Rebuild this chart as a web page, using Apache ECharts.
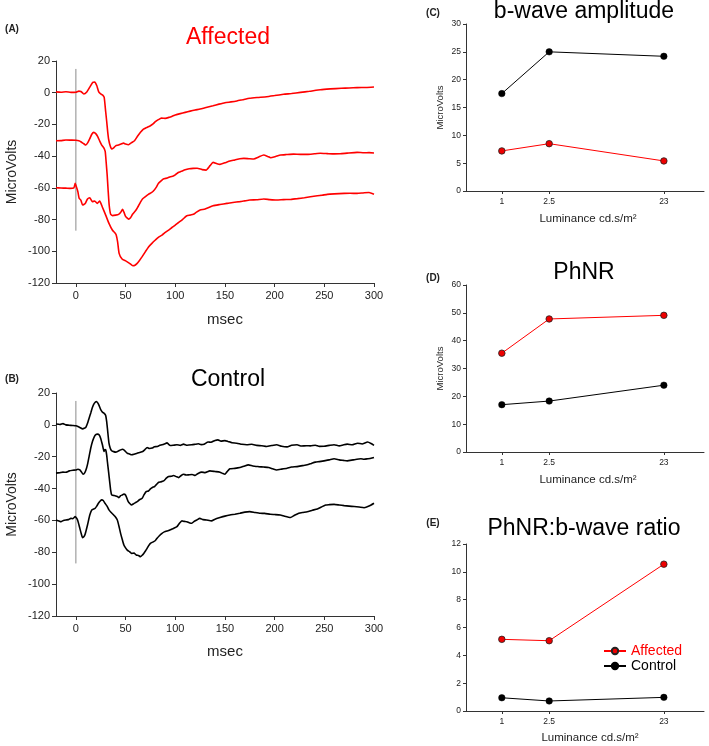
<!DOCTYPE html>
<html>
<head>
<meta charset="utf-8">
<script src="https://cdn.jsdelivr.net/npm/echarts@6/dist/echarts.min.js"></script>
<style>
  html, body { margin: 0; padding: 0; background: #ffffff; }
  #chart { width: 709px; height: 746px; }
</style>
</head>
<body>
<div id="chart"></div>
<script>
// ---------------- DATA ----------------
// ERG traces, [msec, microvolts]
const affected1 = [[-20,0.5],[-15,0.3],[-10,0.6],[-5,0.2],[0,0.3],[3,1.0],[5,0.8],[8,-0.8],[11,0.5],[14,3.5],[17,6.5],[19,6.8],[21,4.5],[23,0.5],[25,-0.8],[27,-1.5],[28.5,-3],[30,-12],[31,-18],[32,-24.5],[33,-29.5],[34.5,-33.5],[36,-35.5],[38,-34.8],[40,-33.5],[43,-33],[46,-32.2],[48,-31.8],[50,-32.4],[53,-32.8],[56,-31.5],[59,-30.3],[62,-27.5],[65,-25],[68,-23],[71,-22],[75,-20.8],[78,-19.5],[80,-18.3],[83,-17],[86,-16],[90,-16.2],[94,-15.5],[97,-14.8],[100,-14],[105,-13.2],[110,-12.4],[115,-11.6],[120,-10.9],[125,-10.3],[130,-9.5],[138,-8.2],[144,-7.2],[150,-6.3],[156,-5.8],[162,-5.2],[168,-4.4],[175,-3.5],[183,-3.0],[192,-2.5],[200,-1.8],[209,-1.0],[217,-0.5],[226,0.2],[235,0.9],[246,1.9],[256,2.4],[267,2.8],[275,3.0],[283,3.2],[292,3.3],[300,3.6]];
const affected2 = [[-20,-30.3],[-15,-30.2],[-10,-29.8],[-5,-29.9],[0,-30],[3,-30.3],[5,-30.9],[8,-32.2],[10,-33],[12,-31.5],[14,-29],[16,-26.2],[18,-25],[20,-25.8],[22,-27.7],[24,-30.5],[26,-33],[28,-34.7],[29.5,-37],[30.5,-44],[31.5,-52],[32.5,-62],[33.5,-70.8],[35,-76.7],[37,-77.5],[40,-77.2],[43,-76.7],[45,-75.5],[47,-73.6],[48.5,-75.5],[50,-78],[53,-79.7],[55,-78.8],[57,-76.7],[60,-74.5],[62,-72.5],[65,-69],[67,-67],[70,-65.5],[73,-64.1],[76,-63],[78,-62],[81,-59.5],[83,-57.2],[86,-55.5],[88,-54.4],[92,-53.8],[95,-53],[98,-52.5],[100,-51.8],[103,-50.3],[106,-49.6],[110,-48.6],[114,-48.0],[118,-47.7],[122,-47.6],[127,-48.5],[131,-48.8],[135,-46],[138,-43.9],[142,-44.8],[145,-45.2],[150,-44.2],[155,-43.1],[160,-42.4],[165,-41.6],[169,-41.4],[174,-41.6],[179,-41.8],[184,-40.5],[189,-39.3],[193,-40.2],[196,-41],[201,-40.2],[206,-39.3],[212,-39],[219,-38.7],[226,-38.9],[233,-38.9],[240,-38.5],[246,-38.2],[253,-38.4],[260,-38.6],[266,-38.5],[273,-38.1],[283,-37.6],[290,-37.9],[295,-37.8],[300,-38]];
const affected3 = [[-20,-59.9],[-15,-60.1],[-10,-60.2],[-6,-60.3],[-2,-60],[-0.7,-57.2],[0.5,-59.3],[2,-62.4],[3.3,-66.6],[5,-67.7],[6.7,-70.8],[8,-70.5],[9.5,-69.8],[11.7,-67],[14,-66.2],[16.5,-68.7],[19,-68.3],[21.5,-69.8],[24,-68.3],[26.5,-71.9],[30,-77.2],[33.3,-82.4],[36.7,-86.6],[39,-88.2],[40.5,-89.5],[42,-94],[43.5,-101.3],[46.5,-104.9],[50.5,-106.2],[54,-107.6],[57.3,-109.1],[59.5,-108.8],[61.7,-107.6],[64,-105.8],[66.7,-103.4],[70,-100.2],[73.3,-97.1],[76.5,-95],[80,-92.9],[83,-91.2],[86.7,-89.8],[90,-88.1],[93.3,-86.6],[96.7,-85],[100,-83.5],[103,-82],[106.7,-80.3],[109,-79],[111.7,-77.6],[115,-77.2],[118.3,-76.7],[121,-75.5],[125,-74],[130,-73.4],[138,-71.3],[145,-70.5],[152,-69.8],[158,-69.2],[165,-68.7],[170,-68.2],[175,-67.7],[182,-67.5],[189,-67],[195,-67.4],[202,-67.7],[209,-67.4],[216,-67.3],[223,-66.8],[230,-66.2],[236,-65.6],[243,-65],[248,-64.6],[253,-64.1],[260,-63.8],[270,-63.5],[276,-63.4],[283,-63.5],[289,-63.2],[295,-62.9],[300,-64]];

const control1 = [[-20,0.5],[-16,0.2],[-13,0.8],[-10,0],[-7,-0.2],[-3.3,-0.4],[0,-0.6],[2,-1],[4.5,-1.8],[6.7,-2.5],[9,-2],[10,-1.6],[12,1.5],[13.3,4.2],[15,7.5],[16.7,11],[18.5,13.5],[20.7,14.7],[22,13.8],[23.3,12.2],[25,9.5],[26.7,8],[28.5,7.2],[30,5.9],[31,2],[31.7,-2],[32.5,-7],[33.3,-11.5],[34.5,-14.5],[36,-16.3],[38,-16.8],[40,-17.1],[42.5,-16.5],[45,-15.7],[47,-15.3],[48.3,-15.7],[50,-16.8],[51.7,-17.8],[54,-18.3],[56,-18.8],[58.5,-18.5],[61.7,-17.8],[64,-17.3],[67.3,-16.7],[69.5,-15.5],[71.7,-14.2],[74,-14.8],[76.7,-14.6],[79,-13.8],[81.7,-13.6],[84,-13],[86.7,-12.5],[89,-12],[91.7,-11.3],[93,-12],[95,-13],[98,-12.8],[101.7,-12.5],[105,-12.9],[108.3,-12.1],[112,-12.8],[116.7,-12.5],[120,-12.2],[123.3,-11.9],[126,-12.4],[129,-12.2],[133,-10.8],[136,-10.9],[140,-9.8],[143,-9.4],[146,-10.2],[150,-9.9],[153,-10.4],[157,-11.2],[162,-11.5],[167,-12.2],[172,-12.5],[177,-12.2],[182,-12.9],[187,-13.1],[192,-13.6],[197,-13.0],[202,-12.5],[207,-13.4],[212.5,-13.8],[217,-12.8],[222.6,-12.5],[227,-13.3],[232,-13.1],[236,-13.2],[241,-12.8],[245,-13.5],[249.7,-13.4],[255,-12.9],[259.8,-12.5],[265,-13.2],[269,-12.6],[273,-12.1],[278,-12.5],[283.4,-11.5],[288,-12],[293.6,-10.8],[297,-11.7],[300,-12.9]];
const control2 = [[-20,-30.3],[-16,-30],[-13,-29.7],[-10,-29.8],[-6.7,-28.9],[-3,-28.5],[0,-28.3],[2,-27.9],[4,-28.3],[5.5,-29.5],[7.3,-31],[9,-30],[10.7,-27.2],[12,-24],[13.3,-19.9],[15,-14.5],[16.7,-10.4],[18.5,-7.5],[20,-6.2],[21.7,-5.8],[23.3,-6.2],[25,-8.5],[26.7,-12.5],[28.3,-16.7],[29.2,-15.5],[30,-15.7],[31,-19],[31.7,-23],[33,-30],[34,-35.6],[35,-41],[36,-44],[38,-44.3],[40,-44.6],[41.7,-45],[43.3,-45.7],[45,-44.5],[46.7,-44],[48.3,-43.5],[50,-44],[51.3,-46],[52.7,-48.2],[54.5,-49.5],[56,-50.3],[58,-49.6],[60,-48.8],[61.7,-48.2],[64,-47],[66.7,-46.1],[68.5,-44],[70.7,-41.9],[73,-41.5],[75,-40.2],[77,-39.3],[79.3,-38.7],[81,-37.5],[83.3,-36],[85.5,-35.8],[88.3,-35.2],[91,-33.5],[93.3,-32.4],[96,-32.3],[98.3,-31.8],[101,-32.5],[103.3,-33.1],[106,-31.8],[108.3,-31],[111,-31.5],[113.3,-31.4],[117,-31.2],[120,-31.8],[123,-30.5],[126.7,-29.7],[130,-30],[134.8,-28.9],[140,-29.3],[145,-29.7],[148,-30.6],[150,-31],[152,-29.5],[155,-27.6],[160,-27.3],[165,-26.8],[169,-26.0],[173.6,-25.1],[178,-25.8],[183.8,-26.2],[189,-26.5],[194,-26.8],[198,-27.6],[202,-28.3],[207,-27.8],[212.5,-27.2],[217,-26.5],[222.6,-26.2],[228,-25.6],[232.8,-25.1],[237,-24.2],[241,-23.4],[245,-23.1],[249.7,-22.6],[255,-22],[259.8,-21.3],[265,-22],[269,-22.3],[273,-22.6],[279,-22],[286.8,-21.3],[290,-21.6],[293.6,-21.3],[297,-21.0],[300,-20.5]];
const control3 = [[-20,-59.7],[-17,-60.3],[-15,-60.8],[-12.5,-60],[-10,-59.7],[-7.5,-59.5],[-5,-58.7],[-3,-58.9],[-0.7,-57.6],[1.7,-59.7],[4,-65],[5.5,-68.5],[6.7,-70.8],[8,-70.3],[9.3,-68.7],[11.7,-62.9],[14,-56.6],[16,-53.4],[19.3,-52.4],[21,-51],[22.7,-49.2],[24.5,-47.8],[26,-47.1],[27.5,-47.5],[29.3,-49.2],[31.5,-51.2],[33.3,-53.4],[35.5,-55],[37.3,-56.1],[39.5,-57.6],[41.7,-59.7],[43.3,-63.5],[45,-68.1],[46.7,-72],[48.3,-75.4],[50,-77.2],[51.7,-78.6],[54,-79.6],[56,-80.7],[58.5,-80.5],[60.7,-81.7],[63,-82],[65,-82.8],[66.7,-81.9],[68.3,-80.7],[70,-79.2],[71.7,-77.5],[73.3,-75.8],[75,-74.4],[78.3,-73.3],[80,-72.6],[81.7,-71.2],[84,-69.6],[86.7,-68.1],[89,-67.2],[91.7,-66.6],[94,-66.2],[96.7,-65.4],[99,-64.8],[101.7,-63.9],[104,-62],[106.7,-60.3],[109,-60.6],[111.7,-60.8],[114,-61.4],[116.7,-61.8],[119,-60.6],[121.7,-59.7],[124.7,-58.7],[128,-59.5],[131.4,-59.7],[136.5,-60.3],[140,-59.2],[145,-58.2],[150,-57.3],[155,-56.6],[160,-56.1],[165,-55.5],[170,-54.8],[175,-54.5],[180,-55],[185.5,-55.5],[190,-55.6],[195.6,-56.1],[200,-56.3],[205.7,-56.6],[210,-57.4],[215.9,-58.2],[220,-56.8],[224.3,-55.5],[228,-55],[232.8,-54.5],[238,-53.6],[243,-52.8],[247,-51.6],[251.4,-50.3],[255,-50.1],[259.8,-49.9],[265,-50.3],[270,-50.7],[275,-51],[280,-51.3],[285,-51.6],[290,-52],[295,-51],[300,-49.2]];

// stimulus marker (msec, microvolt range)
const stimTime = 0;
const stimRange = [15, -87];

// time axis tick labels
const timeTicks = [0, 50, 100, 150, 200, 250, 300];

// luminance panels
const luminance = [1, 2.5, 23];
const bwaveAffected = [7.2, 8.5, 5.4];
const bwaveControl = [17.5, 25.0, 24.2];
const phnrAffected = [35.5, 47.8, 49.1];
const phnrControl = [17.0, 18.3, 24.0];
const ratioAffected = [5.15, 5.05, 10.55];
const ratioControl = [0.95, 0.72, 0.98];

// ---------------- CHART ----------------
const FONT = '"Liberation Sans", Arial, Helvetica, sans-serif';
const RED = '#ff0000';
const AXIS = '#333333';
const chart = echarts.init(document.getElementById('chart'), null, { renderer: 'canvas' });

function pairs(xs, ys) { return xs.map((x, i) => [x, ys[i]]); }

function traceX(gi) {
  return {
    type: 'value', gridIndex: gi, min: -20, max: 300,
    axisLine: { show: true, onZero: false, lineStyle: { color: AXIS, width: 1 } },
    axisTick: { show: true, length: 4, customValues: timeTicks, lineStyle: { color: AXIS } },
    axisLabel: { customValues: timeTicks, color: '#222', fontSize: 11, fontFamily: FONT, margin: 7 },
    splitLine: { show: false }
  };
}
function traceY(gi) {
  return {
    type: 'value', gridIndex: gi, min: -120, max: 20, interval: 20,
    name: 'MicroVolts', nameLocation: 'middle', nameGap: 37,
    nameTextStyle: { color: '#222', fontSize: 14, fontFamily: FONT },
    axisLine: { show: true, onZero: false, lineStyle: { color: AXIS, width: 1 } },
    axisTick: { show: true, length: 4, lineStyle: { color: AXIS } },
    axisLabel: { color: '#222', fontSize: 11, fontFamily: FONT, margin: 6 },
    splitLine: { show: false }
  };
}
function lumX(gi) {
  return {
    type: 'log', logBase: 10, gridIndex: gi, min: 0.5, max: 50,
    axisLine: { show: true, onZero: false, lineStyle: { color: AXIS, width: 1 } },
    axisTick: { show: true, length: 3, customValues: luminance, lineStyle: { color: AXIS } },
    axisLabel: { customValues: luminance, color: '#222', fontSize: 8.5, fontFamily: FONT, margin: 6,
      formatter: v => String(v) },
    splitLine: { show: false }, minorTick: { show: false }
  };
}
function lumY(gi, max, interval, name) {
  return {
    type: 'value', gridIndex: gi, min: 0, max: max, interval: interval,
    name: name || '', nameLocation: 'middle', nameGap: 21,
    nameTextStyle: { color: '#222', fontSize: 9.5, fontFamily: FONT },
    axisLine: { show: true, onZero: false, lineStyle: { color: AXIS, width: 1 } },
    axisTick: { show: true, length: 3, lineStyle: { color: AXIS } },
    axisLabel: { color: '#222', fontSize: 8.5, fontFamily: FONT, margin: 5 },
    splitLine: { show: false }
  };
}
function trace(name, data, gi, color) {
  return {
    type: 'line', name: name, xAxisIndex: gi, yAxisIndex: gi, data: data,
    showSymbol: false, symbol: 'none', smooth: 0.15,
    lineStyle: { color: color, width: 1.6 }, itemStyle: { color: color },
    z: 3, silent: true
  };
}
function stimLine(gi) {
  return {
    type: 'line', name: 'stim' + gi, xAxisIndex: gi, yAxisIndex: gi,
    data: [[stimTime, stimRange[0]], [stimTime, stimRange[1]]],
    showSymbol: false, symbol: 'none',
    lineStyle: { color: '#8a8a8a', width: 1 }, z: 2, silent: true
  };
}
function lumSeries(name, ys, gi, isAffected) {
  return {
    type: 'line', name: name, xAxisIndex: gi, yAxisIndex: gi,
    data: pairs(luminance, ys),
    symbol: 'circle', symbolSize: 6.5,
    lineStyle: { color: isAffected ? RED : '#000', width: 1 },
    itemStyle: isAffected ? { color: '#ee0000', borderColor: '#222', borderWidth: 0.8 }
                          : { color: '#000', borderColor: '#000', borderWidth: 0.5 },
    z: 3
  };
}
function txt(text, x, y, size, color, bold) {
  return {
    type: 'text', x: x, y: y, silent: true,
    style: {
      text: text, fill: color || '#222',
      font: (bold ? 'bold ' : '') + size + 'px ' + FONT,
      align: 'center', verticalAlign: 'middle',
      textAlign: 'center', textVerticalAlign: 'middle'
    }
  };
}

const option = {
  animation: false,
  backgroundColor: '#ffffff',
  textStyle: { fontFamily: FONT },
  grid: [
    { left: 56, top: 61, width: 318, height: 222 },
    { left: 56, top: 393, width: 318, height: 223 },
    { left: 466, top: 24, width: 238, height: 167 },
    { left: 466, top: 285, width: 238, height: 167 },
    { left: 466, top: 544, width: 238, height: 167 }
  ],
  xAxis: [traceX(0), traceX(1), lumX(2), lumX(3), lumX(4)],
  yAxis: [traceY(0), traceY(1), lumY(2, 30, 5, 'MicroVolts'), lumY(3, 60, 10, 'MicroVolts'), lumY(4, 12, 2, '')],
  legend: {
    orient: 'vertical', left: 598, top: 639,
    itemWidth: 22, itemHeight: 8, itemGap: 1,
    textStyle: { fontSize: 14, fontFamily: FONT, lineHeight: 12, padding: [0, 0, 0, 0] },
    data: [
      { name: 'Affected', textStyle: { color: RED } },
      { name: 'Control', textStyle: { color: '#000' } }
    ],
    selectedMode: false
  },
  series: [
    stimLine(0), stimLine(1),
    trace('Affected trace 1', affected1, 0, RED),
    trace('Affected trace 2', affected2, 0, RED),
    trace('Affected trace 3', affected3, 0, RED),
    trace('Control trace 1', control1, 1, '#000'),
    trace('Control trace 2', control2, 1, '#000'),
    trace('Control trace 3', control3, 1, '#000'),
    lumSeries('Control', bwaveControl, 2, false),
    lumSeries('Affected', bwaveAffected, 2, true),
    lumSeries('Affected', phnrAffected, 3, true),
    lumSeries('Control', phnrControl, 3, false),
    lumSeries('Affected', ratioAffected, 4, true),
    lumSeries('Control', ratioControl, 4, false)
  ],
  graphic: [
    txt('(A)', 12, 29, 10, '#222', true),
    txt('Affected', 228, 38, 23, RED),
    txt('msec', 225, 320, 15, '#222'),
    txt('(B)', 12, 379, 10, '#222', true),
    txt('Control', 228, 380, 23, '#000'),
    txt('msec', 225, 652, 15, '#222'),
    txt('(C)', 433, 13, 10, '#222', true),
    txt('b-wave amplitude', 584, 12, 23, '#000'),
    txt('Luminance cd.s/m²', 588, 219, 11.5, '#222'),
    txt('(D)', 433, 278, 10, '#222', true),
    txt('PhNR', 584, 273, 23, '#000'),
    txt('Luminance cd.s/m²', 588, 480, 11.5, '#222'),
    txt('(E)', 433, 523, 10, '#222', true),
    txt('PhNR:b-wave ratio', 584, 529, 23, '#000'),
    txt('Luminance cd.s/m²', 590, 738, 11.5, '#222')
  ]
};
chart.setOption(option);
</script>
</body>
</html>
